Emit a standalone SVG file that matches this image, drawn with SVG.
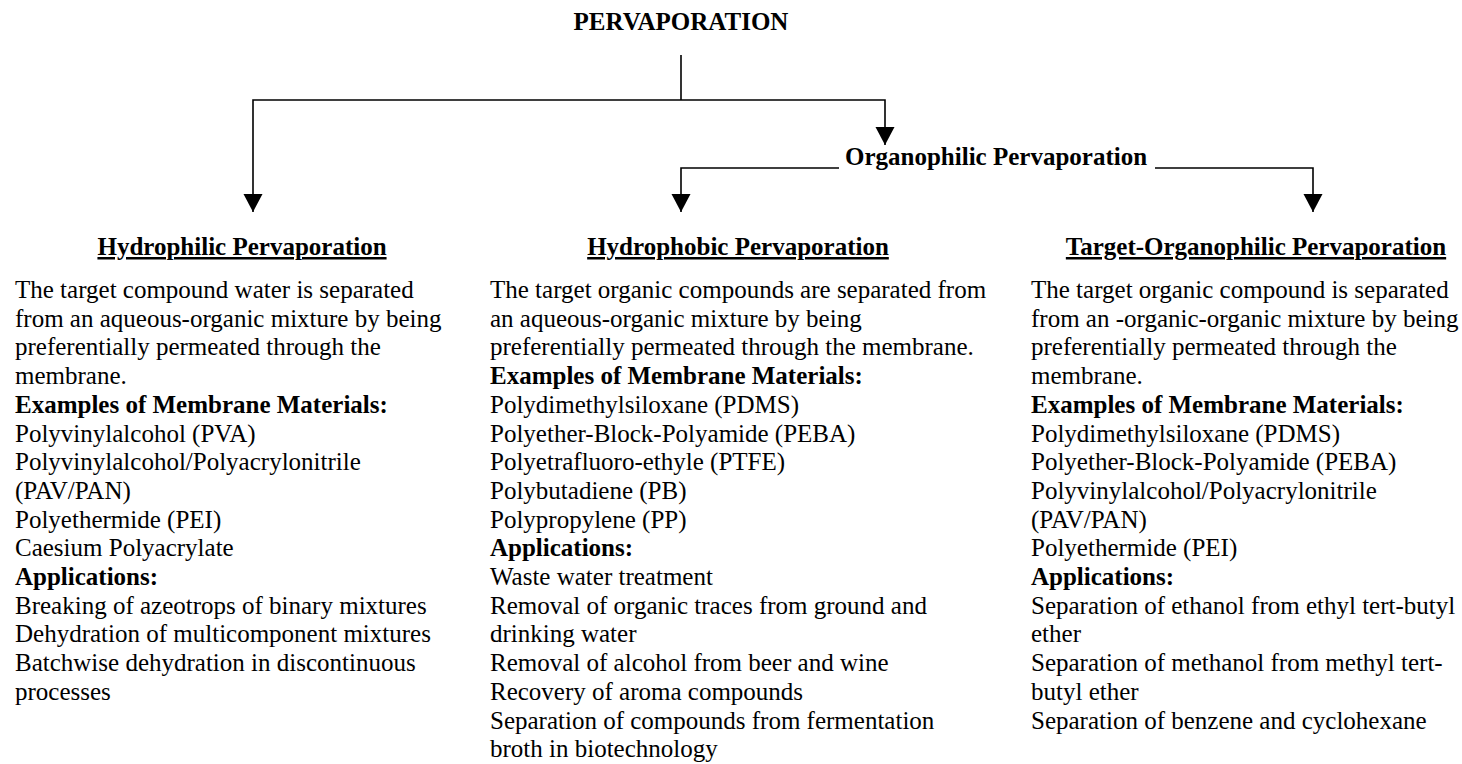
<svg xmlns="http://www.w3.org/2000/svg" width="1462" height="764" viewBox="0 0 1462 764">
  <style>
    text { font-family: "Liberation Serif", "Times New Roman", serif; fill: #000; }
    .title { font-size: 25px; font-weight: bold; }
    .head { font-size: 25px; font-weight: bold; text-decoration: underline; }
    .body { font-size: 25px; }
    .b { font-weight: bold; }
    .conn { fill: none; stroke: #000; stroke-width: 1.6; }
  </style>
  <defs>
    <marker id="arrow" markerUnits="userSpaceOnUse" markerWidth="20" markerHeight="20" refX="18" refY="9.5" orient="auto">
      <path d="M0,0 L18,9.5 L0,19 Z" fill="#000"/>
    </marker>
  </defs>
  <rect width="1462" height="764" fill="#fff"/>

  <g id="connectors">
    <path class="conn" d="M681,55 V100"/>
    <path class="conn" d="M681,100 H253 V212" marker-end="url(#arrow)"/>
    <path class="conn" d="M681,100 H885 V145" marker-end="url(#arrow)"/>
    <path class="conn" d="M839,168 H681 V212" marker-end="url(#arrow)"/>
    <path class="conn" d="M1155,168 H1313 V212" marker-end="url(#arrow)"/>
  </g>

  <g id="pervaporation">
    <text class="title" x="681" y="30" text-anchor="middle">PERVAPORATION</text>
  </g>

  <g id="organophilic">
    <text class="title" x="845" y="165">Organophilic Pervaporation</text>
  </g>

  <g id="hydrophilic">
    <text class="head" x="242" y="255" text-anchor="middle">Hydrophilic Pervaporation</text>
    <text class="body" x="15" y="298">
      <tspan x="15">The target compound water is separated</tspan>
      <tspan x="15" dy="28.7">from an aqueous-organic mixture by being</tspan>
      <tspan x="15" dy="28.7">preferentially permeated through the</tspan>
      <tspan x="15" dy="28.7">membrane.</tspan>
      <tspan x="15" dy="28.7" class="b">Examples of Membrane Materials:</tspan>
      <tspan x="15" dy="28.7">Polyvinylalcohol (PVA)</tspan>
      <tspan x="15" dy="28.7">Polyvinylalcohol/Polyacrylonitrile</tspan>
      <tspan x="15" dy="28.7">(PAV/PAN)</tspan>
      <tspan x="15" dy="28.7">Polyethermide (PEI)</tspan>
      <tspan x="15" dy="28.7">Caesium Polyacrylate</tspan>
      <tspan x="15" dy="28.7" class="b">Applications:</tspan>
      <tspan x="15" dy="28.7">Breaking of azeotrops of binary mixtures</tspan>
      <tspan x="15" dy="28.7">Dehydration of multicomponent mixtures</tspan>
      <tspan x="15" dy="28.7">Batchwise dehydration in discontinuous</tspan>
      <tspan x="15" dy="28.7">processes</tspan>
    </text>
  </g>

  <g id="hydrophobic">
    <text class="head" x="738" y="255" text-anchor="middle">Hydrophobic Pervaporation</text>
    <text class="body" x="490" y="298">
      <tspan x="490">The target organic compounds are separated from</tspan>
      <tspan x="490" dy="28.7">an aqueous-organic mixture by being</tspan>
      <tspan x="490" dy="28.7">preferentially permeated through the membrane.</tspan>
      <tspan x="490" dy="28.7" class="b">Examples of Membrane Materials:</tspan>
      <tspan x="490" dy="28.7">Polydimethylsiloxane (PDMS)</tspan>
      <tspan x="490" dy="28.7">Polyether-Block-Polyamide (PEBA)</tspan>
      <tspan x="490" dy="28.7">Polyetrafluoro-ethyle (PTFE)</tspan>
      <tspan x="490" dy="28.7">Polybutadiene (PB)</tspan>
      <tspan x="490" dy="28.7">Polypropylene (PP)</tspan>
      <tspan x="490" dy="28.7" class="b">Applications:</tspan>
      <tspan x="490" dy="28.7">Waste water treatment</tspan>
      <tspan x="490" dy="28.7">Removal of organic traces from ground and</tspan>
      <tspan x="490" dy="28.7">drinking water</tspan>
      <tspan x="490" dy="28.7">Removal of alcohol from beer and wine</tspan>
      <tspan x="490" dy="28.7">Recovery of aroma compounds</tspan>
      <tspan x="490" dy="28.7">Separation of compounds from fermentation</tspan>
      <tspan x="490" dy="28.7">broth in biotechnology</tspan>
    </text>
  </g>

  <g id="target-organophilic">
    <text class="head" x="1256" y="255" text-anchor="middle">Target-Organophilic Pervaporation</text>
    <text class="body" x="1031" y="298">
      <tspan x="1031">The target organic compound is separated</tspan>
      <tspan x="1031" dy="28.7">from an -organic-organic mixture by being</tspan>
      <tspan x="1031" dy="28.7">preferentially permeated through the</tspan>
      <tspan x="1031" dy="28.7">membrane.</tspan>
      <tspan x="1031" dy="28.7" class="b">Examples of Membrane Materials:</tspan>
      <tspan x="1031" dy="28.7">Polydimethylsiloxane (PDMS)</tspan>
      <tspan x="1031" dy="28.7">Polyether-Block-Polyamide (PEBA)</tspan>
      <tspan x="1031" dy="28.7">Polyvinylalcohol/Polyacrylonitrile</tspan>
      <tspan x="1031" dy="28.7">(PAV/PAN)</tspan>
      <tspan x="1031" dy="28.7">Polyethermide (PEI)</tspan>
      <tspan x="1031" dy="28.7" class="b">Applications:</tspan>
      <tspan x="1031" dy="28.7">Separation of ethanol from ethyl tert-butyl</tspan>
      <tspan x="1031" dy="28.7">ether</tspan>
      <tspan x="1031" dy="28.7">Separation of methanol from methyl tert-</tspan>
      <tspan x="1031" dy="28.7">butyl ether</tspan>
      <tspan x="1031" dy="28.7">Separation of benzene and cyclohexane</tspan>
    </text>
  </g>
</svg>
